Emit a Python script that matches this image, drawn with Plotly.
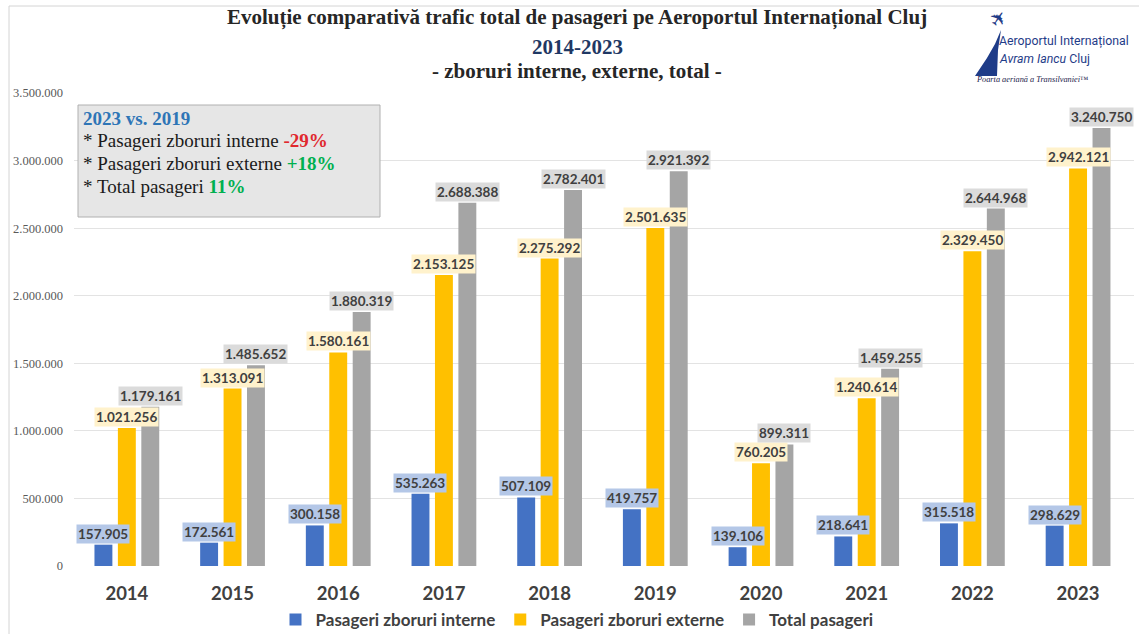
import plotly.graph_objects as go

years = ["2014", "2015", "2016", "2017", "2018", "2019", "2020", "2021", "2022", "2023"]
interne = [157905, 172561, 300158, 535263, 507109, 419757, 139106, 218641, 315518, 298629]
externe = [1021256, 1313091, 1580161, 2153125, 2275292, 2501635, 760205, 1240614, 2329450, 2942121]
total = [1179161, 1485652, 1880319, 2688388, 2782401, 2921392, 899311, 1459255, 2644968, 3240750]
series_names = ["Pasageri zboruri interne", "Pasageri zboruri externe", "Total pasageri"]
y_tickvals = [0, 500000, 1000000, 1500000, 2000000, 2500000, 3000000, 3500000]
y_ticktext = ["0", "500.000", "1.000.000", "1.500.000", "2.000.000", "2.500.000", "3.000.000", "3.500.000"]

bar_colors = ["#4472C4", "#FFC000", "#A5A5A5"]
label_bg = ["#B4C7E7", "#FFF2CC", "#DBDBDB"]

W, H = 1139, 634
L, R, T, B = 74, 1134, 93, 566


def px(x):
    return (x - L) / (R - L)


def py(y):
    return (B - y) / (B - T)


def fmt(v):
    return f"{v:,}".replace(",", ".")


fig = go.Figure()
series = [interne, externe, total]
for name, vals, c in zip(series_names, series, bar_colors):
    fig.add_trace(go.Bar(x=years, y=vals, name=name, marker_color=c, marker_line_width=0))

bargap = 0.335
bargroupgap = 0.235
slot = (1 - bargap) / 3

annotations = []
for k, vals in enumerate(series):
    off = (k - 1) * slot
    for i, v in enumerate(vals):
        annotations.append(dict(
            x=i + off, y=v, xref="x", yref="y", text="<b>" + fmt(v) + "</b>",
            showarrow=False, yanchor="bottom", xanchor="center", yshift=1,
            bgcolor=label_bg[k], borderpad=1,
            font=dict(family="Lato", size=13.5, color="#404040"),
        ))

# Title lines
title_lines = [
    ("<b>Evoluție comparativă trafic total de pasageri pe Aeroportul Internațional Cluj</b>", 18, "#262626"),
    ("<b>2014-2023</b>", 47, "#1F3864"),
    ("<b>- zboruri interne, externe, total -</b>", 71, "#262626"),
]
for txt, yy, col in title_lines:
    annotations.append(dict(
        x=px(577), y=py(yy), xref="paper", yref="paper", text=txt, showarrow=False,
        xanchor="center", yanchor="middle",
        font=dict(family="Liberation Serif", size=21, color=col),
    ))

# Comparison box texts
box_lines = [
    ("<b>2023 vs. 2019</b>", 118, "#2E75B6", 19),
    ("* Pasageri zboruri interne <b><span style='color:#E0282E'>-29%</span></b>", 140, "#1A1A1A", 19),
    ("* Pasageri zboruri externe <b><span style='color:#00B050'>+18%</span></b>", 163, "#1A1A1A", 19),
    ("* Total pasageri <b><span style='color:#00B050'>11%</span></b>", 186, "#1A1A1A", 19),
]
for txt, yy, col, sz in box_lines:
    annotations.append(dict(
        x=px(81), y=py(yy), xref="paper", yref="paper", text=txt, showarrow=False,
        xanchor="left", yanchor="middle",
        font=dict(family="Liberation Serif", size=sz, color=col),
    ))

# Logo texts
logo_col = "#1F3C88"
annotations += [
    dict(x=px(997), y=py(41), xref="paper", yref="paper", text="Aeroportul Internațional",
         showarrow=False, xanchor="left", yanchor="middle",
         font=dict(family="Roboto", size=12.3, color=logo_col)),
    dict(x=px(997), y=py(59), xref="paper", yref="paper", text="<i>Avram Iancu</i> Cluj",
         showarrow=False, xanchor="left", yanchor="middle",
         font=dict(family="Roboto", size=12.3, color=logo_col)),
    dict(x=px(974), y=py(79), xref="paper", yref="paper", text="<i>Poarta aeriană a Transilvaniei</i>™",
         showarrow=False, xanchor="left", yanchor="middle",
         font=dict(family="Liberation Serif", size=8.3, color="#1A1A4A")),
    dict(x=px(998), y=py(19), xref="paper", yref="paper", text="✈",
         showarrow=False, xanchor="center", yanchor="middle", textangle=-55,
         font=dict(family="DejaVu Sans", size=20, color=logo_col)),
]


def pth(points):
    s = "M " + " L ".join(f"{px(x):.5f},{py(y):.5f}" for x, y in points) + " Z"
    return s


shapes = [
    # comparison box
    dict(type="rect", xref="paper", yref="paper", x0=px(78), x1=px(380), y0=py(217), y1=py(105),
         fillcolor="#E6E6E6", line=dict(color="#B0B0B0", width=1), layer="above"),
    # outer frame lines
    dict(type="line", xref="paper", yref="paper", x0=px(9), x1=px(1139), y0=py(6), y1=py(6),
         line=dict(color="#D4D4D4", width=1)),
    dict(type="line", xref="paper", yref="paper", x0=px(9), x1=px(9), y0=py(6), y1=py(634),
         line=dict(color="#D4D4D4", width=1)),
    # logo swoosh
    dict(type="path", xref="paper", yref="paper",
         path=pth([(1001, 30), (995, 44), (987, 58), (975, 76), (997, 76), (998, 50)]),
         fillcolor=logo_col, line=dict(width=0)),
]

fig.update_layout(
    width=W, height=H,
    margin=dict(l=L, r=W - R, t=T, b=H - B, autoexpand=False),
    paper_bgcolor="white", plot_bgcolor="white",
    barmode="group", bargap=bargap, bargroupgap=bargroupgap,
    showlegend=True,
    legend=dict(orientation="h", x=px(577), xanchor="center", y=py(620), yanchor="middle",
                font=dict(family="Lato", size=17, color="#404040", weight="bold"),
                itemwidth=30),
    xaxis=dict(showgrid=False, showline=False, ticks="", ticklabelstandoff=14,
               tickfont=dict(family="Lato", size=18.5, color="#404040", weight="bold")),
    yaxis=dict(range=[0, 3500000], tickvals=y_tickvals, ticktext=y_ticktext,
               showgrid=True, gridcolor="#E3E3E3", gridwidth=1, zeroline=False,
               showline=False, ticks="", ticklabelstandoff=10,
               tickfont=dict(family="Liberation Serif", size=12.5, color="#595959")),
    annotations=annotations,
    shapes=shapes,
)

fig.write_html("out.html", config={"displayModeBar": False},
               post_script="document.body.style.margin='0';")
